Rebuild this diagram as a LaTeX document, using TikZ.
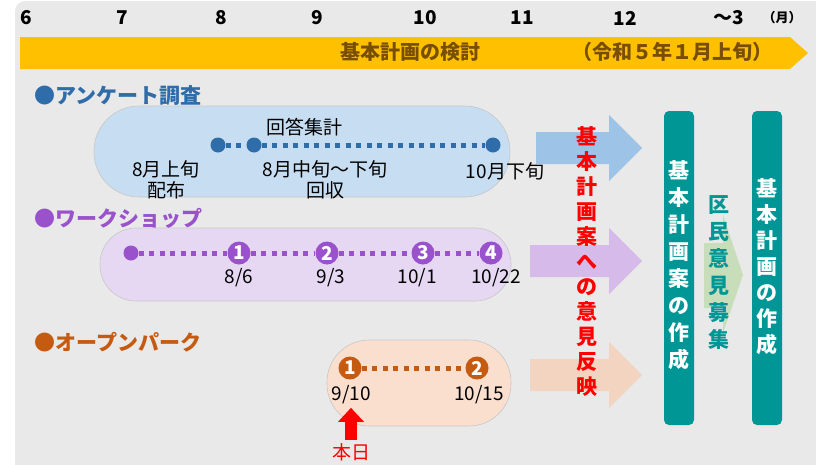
\documentclass[tikz,border=0pt]{standalone}
\usepackage{fontspec}
\setmainfont{Noto Sans CJK JP}
\usetikzlibrary{arrows.meta}

\definecolor{bggray}{RGB}{233,233,233}
\definecolor{gold}{RGB}{255,192,0}
\definecolor{goldtext}{RGB}{120,78,0}
\definecolor{qblue}{RGB}{46,108,170}
\definecolor{qpill}{RGB}{199,221,241}
\definecolor{qarrow}{RGB}{157,195,230}
\definecolor{wpurple}{RGB}{153,81,204}
\definecolor{wpill}{RGB}{230,216,243}
\definecolor{warrow}{RGB}{214,186,234}
\definecolor{porange}{RGB}{197,90,17}
\definecolor{ppill}{RGB}{250,223,207}
\definecolor{parrow}{RGB}{242,212,193}
\definecolor{tealbar}{RGB}{0,150,150}
\definecolor{pgreen}{RGB}{200,222,186}

\newcommand{\fsz}[2]{\fontsize{#1}{#2}\selectfont}

\begin{document}
\begin{tikzpicture}[x=1pt,y=-1pt,
  month/.style={font=\bfseries\fsz{19}{19}},
  sect/.style={anchor=west,font=\bfseries\fsz{21}{21}},
  lbl/.style={align=center,font=\fsz{19}{21}},
  dot/.style={circle,fill=#1,inner sep=0pt,minimum size=15pt},
  num/.style={circle,fill=#1,inner sep=0pt,minimum size=23pt,text=white,font=\bfseries\fsz{19}{19}},
  link/.style={draw=#1,line width=5pt,dash pattern=on 5pt off 5.5pt},
  pill/.style={fill=#1,draw=black!22,line width=0.6pt},
  vtext/.style={align=center,font=\bfseries\fsz{21}{#1}},
  tbar/.style={fill=tealbar,rounded corners=5pt}]

\useasboundingbox (0,0) rectangle (816,464);
\fill[bggray,rounded corners=10pt] (15,1) rectangle (850,500);

% schedule bar
\fill[gold] (20,37) -- (790,37) -- (808,53) -- (790,69) -- (20,69) -- cycle;
\node[font=\bfseries\fsz{20}{20},text=goldtext] (plan) at (410,52) {基本計画の検討};
\node[font=\bfseries\fsz{20}{20},text=goldtext] (planend) at (672,52) {（令和５年１月上旬）};

\foreach \m/\x in {6/26,7/122,8/221,9/317,10/425,11/522,12/625}
  \node[month] (m\m) at (\x,18) {\m};
\node[month] (m3) at (729,18) {～3};
\node[font=\bfseries\fsz{13}{13}] (unit) at (782,18) {（月）};

% survey
\node[sect,text=qblue] (qt) at (31,96) {●アンケート調査};
\draw[pill=qpill,rounded corners=45pt] (94,106) rectangle (510,197);
\node[dot=qblue] (q1) at (218,145) {};
\node[dot=qblue] (q2) at (254,145) {};
\node[dot=qblue] (q3) at (493,145) {};
\draw[link=qblue] (q1) -- (q2) (q2) -- (q3);
\node[lbl] (q2t) at (304,127) {回答集計};
\node[lbl] (q1b) at (166,180) {8月上旬\\配布};
\node[lbl] (q2b) at (325,180) {8月中旬～下旬\\回収};
\node[lbl] (q3b) at (505,171) {10月下旬};

% workshop
\node[sect,text=wpurple] (wt) at (31,218) {●ワークショップ};
\draw[pill=wpill,rounded corners=36pt] (100,228) rectangle (511,301);
\node[dot=wpurple] (w0) at (131,253) {};
\foreach \i/\x in {1/239,2/327,3/423,4/491}
  \node[num=wpurple] (w\i) at (\x,253) {\i};
\draw[link=wpurple] (w0) -- (w1) -- (w2) -- (w3) -- (w4);
\node[lbl] (w1d) at (239,278) {8/6};
\node[lbl] (w2d) at (331,278) {9/3};
\node[lbl] (w3d) at (417,278) {10/1};
\node[lbl] (w4d) at (496,278) {10/22};

% open park
\node[sect,text=porange] (pt) at (31,342) {●オープンパーク};
\draw[pill=ppill,rounded corners=42pt] (327,340) rectangle (511,426);
\node[num=porange] (p1) at (350,368) {1};
\node[num=porange] (p2) at (477,368) {2};
\draw[link=porange] (p1) -- (p2);
\node[lbl] (p1d) at (351,395) {9/10};
\node[lbl] (p2d) at (479,395) {10/15};
\node[font=\fsz{19}{19},text=red] (today) at (351,452) {本日};
\draw[red,line width=12pt,-{Triangle[width=25pt,length=14pt]}] (today) -- (p1d);

% feedback
\foreach \x/\y/\c in {536/148/qarrow,530/261/warrow,530/375/parrow}
  \fill[\c] (\x,\y-16) -- (609,\y-16) -- (609,\y-33) -- (642,\y)
    -- (609,\y+33) -- (609,\y+16) -- (\x,\y+16) -- cycle;
\node[vtext=25,text=red] (opinion) at (587,262) {基\\本\\計\\画\\案\\へ\\の\\意\\見\\反\\映};

\fill[tbar] (664,111) rectangle (694,425);
\node[vtext=27,text=white] (draft) at (679,265) {基\\本\\計\\画\\案\\の\\作\\成};
\fill[pgreen] (704,243) -- (723,243) -- (723,215) -- (743,275) -- (723,333)
  -- (723,308) -- (704,308) -- cycle;
\node[vtext=27,text=tealbar] (comment) at (719,273) {区\\民\\意\\見\\募\\集};
\fill[tbar] (752,111) rectangle (782,425);
\node[vtext=26,text=white] (final) at (767,267) {基\\本\\計\\画\\の\\作\\成};

\end{tikzpicture}
\end{document}
